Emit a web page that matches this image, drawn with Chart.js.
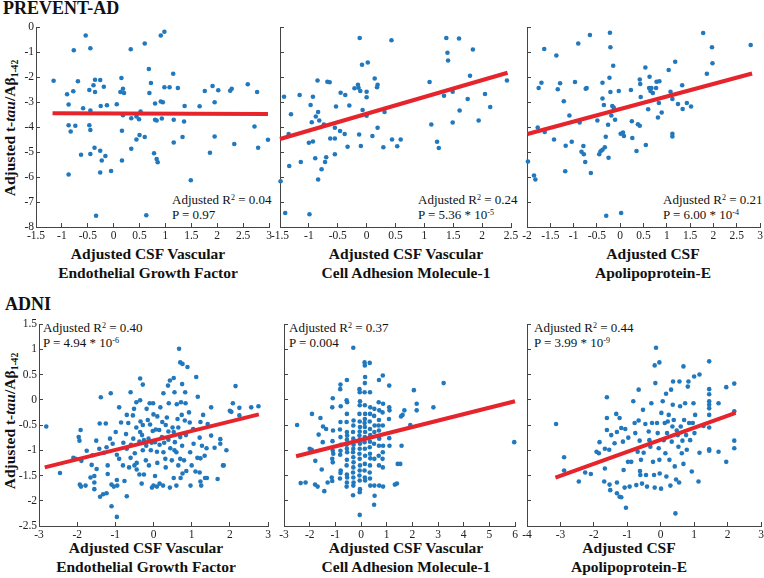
<!DOCTYPE html>
<html>
<head>
<meta charset="utf-8">
<script src="https://cdn.jsdelivr.net/npm/chart.js@4/dist/chart.umd.min.js"></script>
<style>
html, body { margin: 0; padding: 0; background: #fff; }
body { width: 764px; height: 578px; position: relative; overflow: hidden;
       font-family: "Liberation Serif", "Times New Roman", serif; color: #111; }
canvas { position: absolute; }
.txt { position: absolute; white-space: nowrap; }
.head { font-weight: bold; font-size: 18px; line-height: 18px; }
.xt { font-weight: bold; font-size: 15.5px; line-height: 19px; text-align: center; transform: translateX(-50%); }
.yt { font-weight: bold; font-size: 15.5px; line-height: 18px; transform: translate(-50%, -50%) rotate(-90deg); }
.ann { font-size: 13px; line-height: 14.5px; }
sup { font-size: 0.62em; line-height: 0; vertical-align: 0.5em; }
sub { font-size: 0.62em; line-height: 0; vertical-align: -0.3em; }
</style>
</head>
<body>

<div class="txt head" style="left:3px; top:-1px;">PREVENT-AD</div>
<div class="txt head" style="left:5px; top:295px;">ADNI</div>

<div class="txt yt" style="left:10px; top:128px;">Adjusted t-<i>tau</i>/Aβ<sub>1-42</sub></div>
<div class="txt yt" style="left:10px; top:421px;">Adjusted t-<i>tau</i>/Aβ<sub>1-42</sub></div>

<div class="txt xt" style="left:148px; top:244px;">Adjusted CSF Vascular<br>Endothelial Growth Factor</div>
<div class="txt xt" style="left:406px; top:244px;">Adjusted CSF Vascular<br>Cell Adhesion Molecule-1</div>
<div class="txt xt" style="left:653px; top:244px;">Adjusted CSF<br>Apolipoprotein-E</div>
<div class="txt xt" style="left:146px; top:538px;">Adjusted CSF Vascular<br>Endothelial Growth Factor</div>
<div class="txt xt" style="left:406px; top:538px;">Adjusted CSF Vascular<br>Cell Adhesion Molecule-1</div>
<div class="txt xt" style="left:629px; top:538px;">Adjusted CSF<br>Apolipoprotein-E</div>

<div class="txt ann" style="left:172px; top:193px;">Adjusted R<sup>2</sup> = 0.04<br>P = 0.97</div>
<div class="txt ann" style="left:418px; top:193px;">Adjusted R<sup>2</sup> = 0.24<br>P = 5.36 * 10<sup>-5</sup></div>
<div class="txt ann" style="left:663px; top:193px;">Adjusted R<sup>2</sup> = 0.21<br>P = 6.00 * 10<sup>-4</sup></div>
<div class="txt ann" style="left:43px; top:321px;">Adjusted R<sup>2</sup> = 0.40<br>P = 4.94 * 10<sup>-6</sup></div>
<div class="txt ann" style="left:289px; top:321px;">Adjusted R<sup>2</sup> = 0.37<br>P = 0.004</div>
<div class="txt ann" style="left:534px; top:321px;">Adjusted R<sup>2</sup> = 0.44<br>P = 3.99 * 10<sup>-9</sup></div>

<script>
// tick values
const yTicksTop = [0, -1, -2, -3, -4, -5, -6, -7, -8];
const yTicksBottom = [1.5, 1, 0.5, 0, -0.5, -1, -1.5, -2, -2.5];
const xTicksVegfTop = [-1.5, -1, -0.5, 0, 0.5, 1, 1.5, 2, 2.5, 3];
const xTicksVcamTop = [-1.5, -1, -0.5, 0, 0.5, 1, 1.5, 2, 2.5];
const xTicksApoeTop = [-2, -1.5, -1, -0.5, 0, 0.5, 1, 1.5, 2, 2.5, 3];
const xTicksVegfAdni = [-3, -2, -1, 0, 1, 2, 3];
const xTicksVcamAdni = [-3, -2, -1, 0, 1, 2, 3, 4, 5, 6];
const xTicksApoeAdni = [-4, -3, -2, -1, 0, 1, 2, 3];

// PREVENT-AD scatter values [x, y]
const preventVegf = [
  [-1.16,-2.15],[-0.54,-0.34],[-0.77,-0.93],[-0.45,-0.85],[-0.69,-2.17],[-0.78,-2.57],[-0.90,-2.69],[-0.87,-3.10],[-0.59,-3.25],
  [-0.47,-2.52],[-0.39,-2.33],[-0.36,-2.11],[-0.36,-2.60],[-0.26,-2.12],[-0.19,-2.39],[-0.25,-3.16],[-0.13,-3.13],
  [-0.45,-3.34],[-0.87,-3.93],[-0.74,-3.95],[-0.83,-4.18],[-0.47,-3.93],[-0.45,-4.12],
  [-0.63,-5.11],[-0.45,-5.08],[-0.37,-4.83],[-0.26,-4.95],[-0.16,-5.16],[-0.23,-5.34],
  [-0.87,-5.90],[-0.26,-5.82],[-0.05,-5.76],[-0.34,-7.55],
  [0.06,-3.09],[0.15,-2.04],[0.13,-2.60],[0.18,-2.47],[0.20,-2.64],[0.18,-3.53],[0.16,-4.15],[0.33,-0.89],
  [0.34,-3.65],[0.44,-3.58],[0.49,-3.69],[0.34,-4.87],[0.16,-5.34],[0.44,-4.50],[0.50,-4.32],[0.52,-3.38],
  [0.60,-0.66],[0.60,-4.40],[0.63,-7.53],[0.68,-1.68],[0.72,-2.24],[0.69,-2.64],
  [0.80,-3.06],[0.80,-3.71],[0.83,-3.74],[0.78,-5.05],[0.83,-5.28],[0.85,-5.41],
  [0.91,-0.34],[0.98,-0.19],[0.91,-2.98],[0.95,-3.01],[0.93,-3.66],[0.98,-2.41],[1.08,-2.41],
  [1.15,-1.87],[1.16,-3.71],[1.16,-4.62],[1.24,-2.44],[1.33,-4.40],[1.36,-3.78],[1.37,-3.16],
  [1.49,-6.13],[1.66,-3.17],[1.76,-2.56],[1.86,-5.03],[1.91,-2.36],[1.95,-3.01],[1.95,-4.38],[2.02,-2.53],
  [2.25,-2.55],[2.28,-2.47],[2.33,-4.68],[2.59,-2.29],[2.72,-3.98],[2.77,-2.60],[2.79,-4.83],[2.98,-4.51]
];
const preventVcam = [
  [-1.43,-2.79],[-1.41,-7.44],[-1.49,-6.17],[-1.35,-4.28],[-1.34,-5.56],[-1.31,-3.49],[-1.16,-2.72],[-1.14,-5.40],
  [-0.99,-7.49],[-0.97,-3.12],[-0.95,-3.81],[-0.93,-2.79],[-0.93,-4.58],[-1.00,-4.63],[-0.89,-5.25],[-0.88,-3.58],
  [-0.85,-2.14],[-0.84,-3.40],[-0.82,-3.74],[-0.84,-6.10],[-0.78,-5.69],[-0.74,-3.90],[-0.72,-5.40],[-0.70,-5.21],
  [-0.68,-2.19],[-0.64,-2.21],[-0.63,-4.46],[-0.55,-4.46],[-0.55,-4.03],[-0.55,-5.09],[-0.53,-3.18],[-0.46,-4.16],
  [-0.45,-2.63],[-0.38,-4.28],[-0.37,-2.72],[-0.33,-4.79],[-0.30,-3.14],[-0.21,-2.45],[-0.15,-2.31],[-0.14,-2.43],
  [-0.11,-2.56],[-0.13,-4.30],[-0.12,-0.44],[-0.10,-4.76],[-0.08,-1.51],[-0.07,-3.32],[0.00,-2.59],[0.00,-2.81],
  [0.00,-3.55],[0.02,-1.42],[0.10,-4.36],[0.14,-2.06],[0.18,-2.41],[0.19,-2.31],[0.19,-4.03],[0.31,-3.40],
  [0.29,-4.81],[0.43,-0.53],[0.44,-4.50],[0.53,-4.77],[0.59,-4.50],[1.09,-2.20],[1.12,-3.90],[1.22,-4.59],
  [1.25,-4.84],[1.34,-2.75],[1.38,-0.44],[1.40,-1.03],[1.41,-1.34],[1.49,-2.59],[1.49,-3.82],[1.60,-0.46],
  [1.61,-3.34],[1.75,-2.88],[1.79,-1.95],[1.84,-0.90],[1.94,-3.74],[2.05,-2.68],[2.14,-3.20],[2.43,-2.14]
];
const preventApoe = [
  [-1.98,-5.38],[-1.85,-5.94],[-1.82,-6.10],[-1.77,-4.02],[-1.75,-2.44],[-1.69,-2.23],[-1.63,-0.88],[-1.62,-4.20],
  [-1.42,-4.50],[-1.37,-1.14],[-1.34,-2.49],[-1.29,-2.25],[-1.21,-2.97],[-1.18,-5.77],[-1.17,-4.75],[-1.09,-3.54],
  [-1.04,-4.59],[-0.97,-2.20],[-0.90,-0.66],[-0.87,-3.82],[-0.83,-4.99],[-0.79,-4.76],[-0.78,-5.09],[-0.75,-5.40],
  [-0.74,-2.47],[-0.72,-2.44],[-0.65,-0.32],[-0.63,-5.84],[-0.49,-3.74],[-0.45,-5.09],[-0.42,-4.97],[-0.38,-4.91],
  [-0.38,-2.23],[-0.38,-2.86],[-0.35,-3.12],[-0.33,-4.81],[-0.31,-4.39],[-0.30,-7.55],[-0.26,-3.91],[-0.25,-5.23],
  [-0.23,-2.03],[-0.22,-0.23],[-0.21,-0.81],[-0.21,-2.60],[-0.19,-3.54],[-0.17,-3.16],[-0.15,-1.55],[-0.14,-3.22],
  [-0.11,-3.71],[-0.03,-2.56],[0.01,-4.27],[0.02,-7.44],[0.06,-4.22],[0.08,-4.36],[0.23,-2.52],[0.25,-3.77],
  [0.26,-4.44],[0.35,-4.96],[0.38,-3.89],[0.42,-2.10],[0.42,-3.95],[0.43,-2.28],[0.44,-2.80],[0.54,-1.62],
  [0.55,-4.72],[0.60,-3.29],[0.62,-2.44],[0.63,-1.99],[0.65,-2.56],[0.67,-2.44],[0.70,-2.64],[0.77,-2.44],
  [0.78,-2.19],[0.81,-3.62],[0.83,-3.04],[0.84,-2.17],[0.89,-3.42],[1.04,-1.72],[1.08,-2.59],[1.12,-2.88],
  [1.12,-4.27],[1.12,-4.38],[1.18,-1.39],[1.24,-3.08],[1.33,-2.33],[1.34,-3.28],[1.43,-3.04],[1.52,-3.18],
  [1.78,-0.24],[1.86,-1.87],[1.97,-0.81],[1.98,-1.45],[2.80,-0.72]
];

// ADNI scatter values [x, y]
const adniVegf = [
  [0.67,1.01],[0.70,0.74],[0.76,0.71],[0.89,0.65],[1.12,0.45],[2.15,0.27],[-0.35,0.42],[-0.28,0.30],[0.38,0.28],
  [0.53,0.43],[0.75,0.31],[0.43,0.38],[-1.12,0.13],[-0.60,0.15],[0.26,0.13],[0.55,0.15],[0.83,0.15],[1.16,0.06],
  [-1.38,0.05],[-0.35,-0.01],[-0.10,-0.07],[-0.01,-0.07],[0.40,-0.07],[0.61,-0.09],[0.84,-0.07],[-0.90,-0.15],
  [-0.51,-0.18],[-0.18,-0.18],[1.51,-0.15],[2.08,-0.07],[2.25,-0.16],[2.56,-0.15],[2.75,-0.13],[2.25,-0.31],
  [2.00,-0.22],[2.04,-0.24],
  [-2.81,-0.53],[-1.91,-0.60],[-1.41,-0.47],[-1.25,-0.47],[-0.66,-0.46],[-0.54,-0.31],[-0.34,-0.43],[-0.28,-0.50],
  [-0.09,-0.49],[0.00,-0.29],[0.06,-0.59],[0.23,-0.44],[0.32,-0.50],[0.39,-0.63],[0.53,-0.64],[0.63,-0.38],
  [0.74,-0.30],[0.82,-0.41],[0.93,-0.25],[1.04,-0.58],[1.23,-0.44],[1.42,-0.48],[1.51,-0.71],[1.75,-0.78],
  [-1.96,-0.74],[-1.94,-0.81],[-1.75,-1.01],[-2.04,-1.17],[-1.89,-1.21],[-1.62,-1.29],[-1.50,-0.81],[-1.42,-0.97],
  [-1.23,-0.94],[-1.14,-0.77],[-0.99,-0.64],[-1.07,-0.87],[-0.96,-1.09],[-0.90,-1.17],[-0.79,-0.85],[-0.72,-0.68],
  [-0.70,-0.97],[-0.59,-0.89],[-0.53,-0.77],[-0.49,-1.06],[-0.44,-1.25],[-0.37,-0.83],[-0.35,-0.64],[-0.30,-0.70],
  [-0.28,-1.00],[-0.25,-0.80],[-0.19,-0.91],[-0.13,-0.77],[-0.07,-1.00],[-0.02,-0.62],[0.04,-0.84],[0.09,-1.03],
  [0.16,-0.89],[0.22,-0.74],[0.26,-1.04],[0.31,-1.17],[0.39,-0.79],[0.44,-0.96],[0.48,-1.20],[0.56,-0.84],
  [0.60,-1.04],[0.70,-0.74],[0.70,-1.17],[0.75,-0.91],[0.85,-0.70],[0.96,-1.04],[1.05,-0.87],[1.21,-0.75],
  [1.27,-0.91],[1.34,-1.11],[1.39,-0.96],[1.23,-1.16],[1.75,-0.87],[1.91,-1.00],[1.84,-1.30],
  [-1.93,-1.68],[-1.90,-1.72],[-1.78,-1.70],[-1.65,-1.54],[-1.55,-1.51],[-1.55,-1.64],[-1.55,-1.77],[-1.40,-1.92],
  [-1.32,-1.87],[-1.23,-1.85],[-1.49,-1.37],[-1.20,-1.30],[-1.20,-1.47],[-1.10,-1.68],[-1.04,-1.72],[-1.10,-2.11],
  [-0.96,-2.32],[-0.96,-1.59],[-0.95,-1.70],[-0.76,-1.61],[-0.70,-1.91],[-0.64,-1.34],[-0.50,-1.30],[-0.44,-1.38],
  [-0.37,-1.48],[-0.31,-1.66],[-0.12,-1.30],[-0.04,-1.74],[0.00,-1.70],[0.04,-1.51],[0.09,-1.72],[0.16,-1.66],
  [0.25,-1.70],[0.32,-1.34],[0.43,-1.74],[0.53,-1.55],[0.60,-1.70],[0.71,-1.55],[0.76,-1.46],[0.86,-1.41],
  [0.97,-1.70],[1.10,-1.42],[1.21,-1.44],[1.23,-1.62],[1.25,-1.70],[1.40,-1.55],[1.68,-1.57],[1.82,-1.30],
  [-2.45,-1.45],[-2.10,-1.15],
  [-0.45,-0.55],[-0.15,-0.40],[0.10,-0.33],[0.35,-0.35],[0.50,-0.55],[0.65,-0.55],[0.15,-0.60],[-0.05,-0.85],
  [0.28,-0.85],[0.55,-1.00],[-0.60,-1.15],[-0.20,-1.20],[0.10,-1.25],[0.80,-1.20],[1.00,-1.30],[-0.80,-1.30],
  [0.65,-1.30],[-1.30,-1.05],[-1.60,-1.10],[1.15,-1.15],[1.60,-0.95],[-0.85,-0.45],[0.95,-0.45],[1.30,-0.30],
  [0.18,-0.15],[-0.45,-0.05],[0.72,-0.05],[-0.70,-0.30],[1.35,-1.55],[-0.25,-1.48]
];
const adniVcam = [
  [-2.49,-0.50],[-2.35,-1.65],[-2.16,-1.64],[-1.91,-0.28],[-2.00,-0.97],[-1.92,-0.99],[-1.79,-1.68],[-1.69,-1.72],
  [-1.78,-1.21],[-1.65,-0.69],[-1.58,-0.36],[-1.53,-1.38],[-1.49,-0.84],[-1.48,-0.53],[-1.43,-1.81],[-1.36,-0.58],
  [-1.30,-1.64],[-1.14,-1.54],[-1.12,-1.61],
  [-1.10,0.03],[-1.12,-0.15],[-1.09,-0.61],[-1.11,-0.82],[-1.10,-1.01],[-1.08,-1.07],[-1.12,-1.17],[-1.10,-1.24],
  [-0.80,0.30],[-0.81,0.21],[-0.79,-0.13],[-0.80,-0.44],[-0.82,-0.59],[-0.80,-0.74],[-0.78,-0.89],[-0.80,-1.01],
  [-0.81,-1.09],[-0.79,-1.40],[-0.80,-1.45],[-0.82,-1.56],
  [-0.55,0.39],[-0.56,-0.01],[-0.54,-0.05],[-0.55,-0.28],[-0.56,-0.44],[-0.55,-0.64],[-0.54,-0.71],[-0.55,-0.79],
  [-0.56,-0.89],[-0.55,-0.97],[-0.54,-1.04],[-0.55,-1.19],[-0.56,-1.30],[-0.55,-1.48],[-0.54,-1.54],[-0.55,-1.64],
  [-0.56,-1.72],
  [-0.30,1.03],[-0.29,-0.41],[-0.30,-0.51],[-0.31,-0.64],[-0.30,-0.77],[-0.29,-0.89],[-0.30,-0.97],[-0.31,-1.04],
  [-0.30,-1.14],[-0.29,-1.24],[-0.30,-1.34],[-0.31,-1.44],[-0.30,-1.54],[-0.29,-1.64],[-0.30,-1.70],[-0.31,-1.89],
  [-0.06,0.21],[-0.05,0.15],[-0.04,-0.03],[-0.05,-0.11],[-0.06,-0.28],[-0.05,-0.43],[-0.04,-0.54],[-0.05,-0.63],
  [-0.06,-0.71],[-0.05,-0.79],[-0.04,-0.87],[-0.05,-0.97],[-0.06,-1.07],[-0.05,-1.17],[-0.04,-1.30],[-0.05,-1.40],
  [-0.06,-1.50],[-0.05,-1.60],[-0.04,-1.77],[-0.05,-1.83],[-0.05,-2.28],
  [0.14,0.74],[0.15,0.68],[0.16,0.45],[0.15,0.33],[0.14,0.15],[0.15,-0.11],[0.16,-0.28],[0.15,-0.38],
  [0.14,-0.46],[0.15,-0.54],[0.16,-0.64],[0.15,-0.74],[0.14,-0.84],[0.15,-0.97],[0.16,-1.11],[0.15,-1.27],
  [0.14,-1.40],[0.15,-1.54],[0.16,-1.60],
  [0.34,0.73],[0.35,0.15],[0.36,-0.15],[0.35,-0.28],[0.34,-0.43],[0.35,-0.58],[0.36,-0.70],[0.35,-0.83],
  [0.34,-0.94],[0.35,-1.07],[0.36,-1.16],[0.35,-1.30],[0.34,-1.44],[0.35,-1.56],[0.36,-1.70],
  [0.52,-0.18],[0.51,-0.32],[0.53,-0.51],[0.52,-0.64],[0.51,-0.87],[0.52,-1.17],[0.52,-1.70],[0.53,-1.90],[0.51,-2.08],
  [0.70,0.39],[0.69,-0.05],[0.71,-0.21],[0.70,-0.40],[0.69,-0.51],[0.70,-0.61],[0.71,-0.77],[0.70,-0.91],
  [0.69,-1.11],[0.70,-1.30],[0.71,-1.70],
  [0.85,0.48],[0.86,-0.08],[0.84,-0.25],[0.85,-0.51],[0.86,-0.91],[0.85,-1.04],[0.84,-1.17],[0.85,-1.34],[0.86,-1.72],
  [1.10,0.28],[1.10,-0.15],[1.11,-0.21],[1.09,-0.38],[1.10,-0.76],[1.11,-0.91],
  [1.32,-1.68],[1.40,-1.66],[1.43,-1.27],[1.53,-1.27],[1.56,-0.33],[1.62,-0.30],[1.58,-0.91],[1.69,-0.21],
  [1.92,-0.50],[2.06,0.19],[2.17,-0.08],[2.17,-0.21],[2.82,-0.15],[3.22,0.33],[5.97,-0.84]
];
const adniApoe = [
  [-3.13,-0.48],[-2.89,-1.14],[-2.89,-1.40],[-2.45,-1.62],[-2.26,-1.44],[-2.09,-1.47],[-1.92,-1.03],[-1.83,-0.84],
  [-1.85,-1.06],[-1.67,-0.97],[-1.67,-1.36],[-1.69,-1.62],[-1.61,0.05],[-1.61,-0.36],[-1.61,-0.60],[-1.54,-0.99],
  [-1.53,-1.68],[-1.51,-1.79],[-1.48,-0.70],[-1.38,-0.86],[-1.33,-0.28],[-1.31,-0.64],[-1.31,-1.64],[-1.31,-1.85],
  [-1.23,-1.92],[-1.18,-1.93],[-1.23,-0.36],[-1.18,-0.56],[-1.13,-0.83],[-1.11,-1.39],[-1.04,-2.14],[-1.08,-1.74],
  [-1.06,-0.58],[-0.97,-0.75],[-0.98,-1.23],[-0.93,-1.72],[-0.88,-1.23],[-0.82,-0.03],[-0.78,-0.46],[-0.76,-0.66],
  [-0.73,-1.69],[-0.69,-1.03],[-0.66,0.20],[-0.66,-0.41],[-0.63,-0.81],[-0.62,-1.41],[-0.61,-1.49],[-0.59,-1.19],
  [-0.56,-1.66],[-0.53,-0.20],[-0.51,-1.05],[-0.46,-0.48],[-0.44,-1.49],[-0.41,-1.72],[-0.36,-0.63],[-0.34,-0.80],
  [-0.31,-0.93],[-0.28,-0.07],[-0.26,-0.46],[-0.23,-1.23],[-0.20,-1.49],[-0.18,-1.74],[-0.16,0.33],[-0.14,1.03],
  [-0.18,0.68],[-0.04,0.74],[-0.11,-0.46],[-0.09,-0.66],[-0.06,-0.96],[-0.04,-1.19],[-0.03,-1.46],[0.01,-1.76],
  [0.02,-0.26],[0.06,-0.03],[0.09,-0.80],[0.12,-0.46],[0.14,-1.06],[0.16,0.12],[0.17,-1.52],[0.19,-0.66],
  [0.21,-0.43],[0.24,-0.30],[0.26,-1.19],[0.29,-1.70],[0.31,0.20],[0.33,-0.83],[0.35,-0.53],[0.36,-0.10],
  [0.37,0.36],[0.39,-0.40],[0.42,-1.32],[0.44,-2.25],[0.46,-1.58],[0.48,-0.61],[0.51,-0.70],[0.53,-0.93],
  [0.55,-1.64],[0.56,0.36],[0.58,-0.13],[0.60,-0.53],[0.63,-1.06],[0.65,-0.81],[0.68,0.66],[0.68,-1.27],
  [0.70,-0.40],[0.73,-0.07],[0.76,-0.70],[0.78,-0.99],[0.81,0.26],[0.83,0.36],[0.85,-0.46],[0.88,-0.80],
  [0.93,-1.42],[0.96,-0.46],[0.98,-0.07],[1.00,0.46],[1.01,-0.66],[1.03,-0.30],[1.13,-1.62],[1.16,-1.05],
  [1.16,0.50],[1.28,-0.52],[1.45,0.76],[1.45,0.21],[1.45,0.11],[1.45,-0.03],[1.45,-0.10],[1.45,-0.17],
  [1.45,-0.30],[1.45,-0.55],[1.45,-0.98],[1.45,-1.01],[1.73,-0.07],[1.73,-1.03],[1.96,0.25],[1.96,-1.23],
  [2.20,0.32],[2.20,-0.23],[2.20,-0.81],[2.20,-0.96]
];

// regression lines (endpoints)
const fitVegfTopX = [-1.18, 2.98], fitVegfTopY = [-3.45, -3.48];
const fitVcamTopX = [-1.50, 2.44], fitVcamTopY = [-4.48, -1.83];
const fitApoeTopX = [-1.99, 2.83], fitApoeTopY = [-4.28, -1.86];
const fitVegfAdniX = [-2.85, 2.76], fitVegfAdniY = [-1.34, -0.29];
const fitVcamAdniX = [-2.53, 6.00], fitVcamAdniY = [-1.12, -0.03];
const fitApoeAdniX = [-3.15, 2.24], fitApoeAdniY = [-1.54, -0.26];

const BLUE = '#2178bd', RED = '#e5242b', AXIS = '#444';

// chart area of each panel: [left, right, top, bottom] in page pixels
const panels = [
  { pts: preventVegf, fx: fitVegfTopX, fy: fitVegfTopY, x: [-1.5, 3], xt: xTicksVegfTop, y: [-8, 0], yt: yTicksTop, yl: true, area: [36, 269, 27, 227] },
  { pts: preventVcam, fx: fitVcamTopX, fy: fitVcamTopY, x: [-1.5, 2.5], xt: xTicksVcamTop, y: [-8, 0], yt: yTicksTop, yl: false, area: [279.5, 510.5, 27, 227] },
  { pts: preventApoe, fx: fitApoeTopX, fy: fitApoeTopY, x: [-2, 3], xt: xTicksApoeTop, y: [-8, 0], yt: yTicksTop, yl: false, area: [527, 759.5, 27, 227] },
  { pts: adniVegf, fx: fitVegfAdniX, fy: fitVegfAdniY, x: [-3, 3], xt: xTicksVegfAdni, y: [-2.5, 1.5], yt: yTicksBottom, yl: true, area: [39, 267.5, 323.5, 525.5] },
  { pts: adniVcam, fx: fitVcamAdniX, fy: fitVcamAdniY, x: [-3, 6], xt: xTicksVcamAdni, y: [-2.5, 1.5], yt: yTicksBottom, yl: false, area: [283.5, 514, 323.5, 525.5] },
  { pts: adniApoe, fx: fitApoeAdniX, fy: fitApoeAdniY, x: [-4, 3], xt: xTicksApoeAdni, y: [-2.5, 1.5], yt: yTicksBottom, yl: false, area: [527, 761, 323.5, 525.5] }
];

const PAD_L = 40, PAD_R = 12, PAD_T = 12, PAD_B = 22;
const tickFont = { family: 'Liberation Serif', size: 11.5 };

function zeroPad(s) { s.paddingLeft = s.paddingRight = s.paddingTop = s.paddingBottom = 0; }

panels.forEach(p => {
  const [L, R, T, B] = p.area;
  const cv = document.createElement('canvas');
  cv.width = Math.round(R - L + PAD_L + PAD_R);
  cv.height = Math.round(B - T + PAD_T + PAD_B);
  cv.style.left = (L - PAD_L) + 'px';
  cv.style.top = (T - PAD_T) + 'px';
  document.body.appendChild(cv);

  new Chart(cv, {
    type: 'scatter',
    data: {
      datasets: [
        { data: p.fx.map((v, i) => ({ x: v, y: p.fy[i] })), showLine: true, borderColor: RED,
          borderWidth: 4, pointRadius: 0, order: 0, clip: false },
        { data: p.pts.map(d => ({ x: d[0], y: d[1] })), backgroundColor: BLUE, borderWidth: 0,
          pointRadius: 2.3, order: 1, clip: false }
      ]
    },
    options: {
      responsive: false, animation: false, devicePixelRatio: 1,
      layout: { padding: { left: 0, right: PAD_R, top: PAD_T, bottom: 0 } },
      plugins: { legend: { display: false }, tooltip: { enabled: false } },
      scales: {
        x: {
          type: 'linear', position: 'bottom', min: p.x[0], max: p.x[1],
          afterBuildTicks: s => { s.ticks = p.xt.map(v => ({ value: v })); },
          afterFit: s => { s.height = PAD_B; zeroPad(s); },
          grid: { drawOnChartArea: false, drawTicks: true, tickLength: -4, color: AXIS },
          border: { display: true, color: AXIS, width: 1 },
          ticks: { autoSkip: false, maxRotation: 0, padding: 6, color: '#222', font: tickFont,
                   callback: v => String(v) }
        },
        y: {
          type: 'linear', position: 'left', min: p.y[0], max: p.y[1],
          afterBuildTicks: s => { s.ticks = p.yt.map(v => ({ value: v })); },
          afterFit: s => { s.width = PAD_L; zeroPad(s); },
          grid: { drawOnChartArea: false, drawTicks: true, tickLength: -4, color: AXIS },
          border: { display: true, color: AXIS, width: 1 },
          ticks: { autoSkip: false, padding: 6, color: '#222', font: tickFont,
                   callback: v => p.yl ? String(v) : '' }
        }
      }
    }
  });
});
</script>
</body>
</html>
